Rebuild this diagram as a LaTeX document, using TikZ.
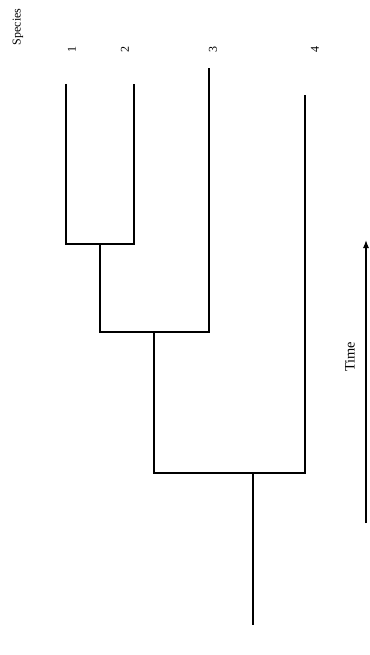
\documentclass[tikz,border=0pt]{standalone}
\usepackage{fontspec}
\setmainfont{Liberation Serif}
\usepackage{tikz}
\usetikzlibrary{arrows.meta, positioning, calc}

\begin{document}
\begin{tikzpicture}[x=1pt, y=-1pt,
    branch/.style={line width=1.2pt},
    taxon/.style={font=\large, rotate=90, inner sep=0pt}]
  \useasboundingbox (0,0) rectangle (369,655);
  % tips of the species
  \coordinate (t1) at (66,84);
  \coordinate (t2) at (134,84);
  \coordinate (t3) at (209,68);
  \coordinate (t4) at (305,95);
  % ancestors
  \coordinate (a12) at (100,244);
  \coordinate (a123) at (154,332);
  \coordinate (a1234) at (253,473);
  \coordinate (base) at (253,625);

  \node[taxon] (species) at (18,27) {Species};
  \node[taxon] (s1) at (72,50) {1};
  \node[taxon] (s2) at (125,50) {2};
  \node[taxon] (s3) at (213,50) {3};
  \node[taxon] (s4) at (315,50) {4};

  \draw[branch] (t1) |- (a12) -| (t2);
  \draw[branch] (a12) |- (a123) -| (t3);
  \draw[branch] (a123) |- (a1234) -| (t4);
  \draw[branch] (a1234) -- (base);

  % time axis
  \coordinate (past) at (366,523);
  \coordinate (now) at (366,240);
  \draw[branch, -{Latex[length=8pt, width=6pt]}] (past) -- (now);
  \node[taxon, font=\Large] (time) at (350,357) {Time};
\end{tikzpicture}
\end{document}
